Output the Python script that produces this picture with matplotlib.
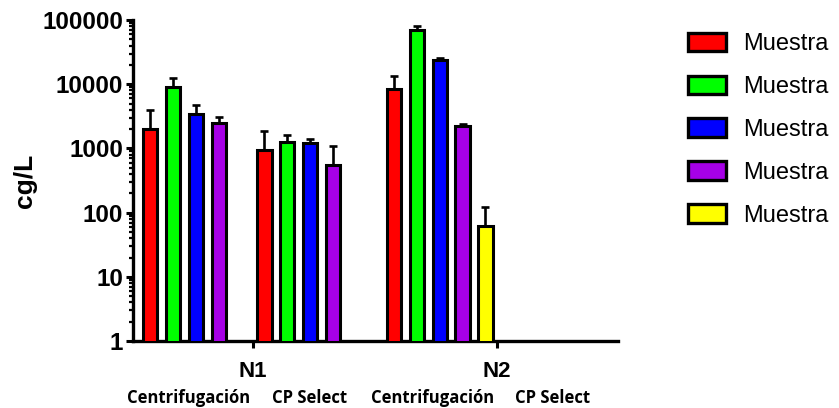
import numpy as np
import matplotlib
matplotlib.use("Agg")
import matplotlib.pyplot as plt
from matplotlib.patches import Patch
from matplotlib.transforms import blended_transform_factory

plt.rcParams['font.family'] = ['Liberation Sans', 'DejaVu Sans']

# datos
grupos = ["N1", "N2"]
metodos = ["Centrifugación", "CP Select"]
muestras = ["Muestra", "Muestra", "Muestra", "Muestra", "Muestra"]
colores = ["#FF0000", "#00FF00", "#0000FF", "#A600E6", "#FFFF00"]

# valores (cg/L); nan = sin barra
n1_centrif = [2000, 9000, 3400, 2500, np.nan]
n1_centrif_err = [1900, 3300, 1400, 550, 0]
n1_cpselect = [950, 1270, 1200, 560, np.nan]
n1_cpselect_err = [950, 360, 220, 540, 0]
n2_centrif = [8300, 70000, 23800, 2260, 62]
n2_centrif_err = [5300, 11000, 1500, 150, 61]
n2_cpselect = [np.nan, np.nan, np.nan, np.nan, np.nan]
n2_cpselect_err = [0, 0, 0, 0, 0]

valores = [[n1_centrif, n1_cpselect], [n2_centrif, n2_cpselect]]
errores = [[n1_centrif_err, n1_cpselect_err], [n2_centrif_err, n2_cpselect_err]]

fig = plt.figure(figsize=(8.39, 4.08), dpi=100)
ax = fig.add_axes([0.1585, 0.164, 0.578, 0.787])

paso = 0.094     # separacion entre barras
ancho = 0.058    # ancho de barra

for g in range(len(grupos)):
    for m in range(len(metodos)):
        for s in range(len(muestras)):
            v = valores[g][m][s]
            if np.isnan(v):
                continue
            x = g + (m * 5 + s - 4.5) * paso
            e = errores[g][m][s]
            ax.errorbar(x, v, yerr=[[0], [e]], fmt="none", ecolor="black",
                        elinewidth=1.9, capsize=3, capthick=1.9, zorder=2)
            ax.bar(x, v, width=ancho, color=colores[s], edgecolor="black",
                   linewidth=2.2, zorder=3)

ax.set_yscale("log")
ax.set_ylim(1, 100000)
ax.set_xlim(-0.492, 1.496)
ax.set_yticks([1, 10, 100, 1000, 10000, 100000])
ax.set_yticklabels(["1", "10", "100", "1000", "10000", "100000"],
                   fontsize=17.5, fontweight="bold")
ax.set_xticks([0, 1])
ax.set_xticklabels(grupos, fontsize=16, fontweight="bold")
ax.tick_params(axis="y", which="major", length=5, width=2.2, direction="out", pad=2)
ax.tick_params(axis="y", which="minor", length=3, width=1.6, direction="out")
ax.tick_params(axis="x", length=5, width=2.2, direction="out", pad=9)

for lado in ["top", "right"]:
    ax.spines[lado].set_visible(False)
for lado in ["left", "bottom"]:
    ax.spines[lado].set_linewidth(2.4)

ax.set_ylabel("cg/L", fontsize=19, fontweight="bold")
ax.yaxis.set_label_coords(-0.198, 0.5)

# etiquetas de metodo debajo de cada grupo
trans = blended_transform_factory(ax.transData, fig.transFigure)
desplaz = [-0.265, 0.23]
for g in range(len(grupos)):
    for m in range(len(metodos)):
        fig.text(g + desplaz[m], 0.024, metodos[m], transform=trans,
                 ha="center", va="center", fontsize=12, fontweight="bold",
                 family=["Open Sans", "DejaVu Sans"])

# leyenda
handles = [Patch(facecolor=c, edgecolor="black", linewidth=2.4) for c in colores]
fig.legend(handles, muestras, loc="upper left", bbox_to_anchor=(0.82, 0.92),
           frameon=False, fontsize=17, handlelength=1.6, handleheight=0.85,
           handletextpad=0.75, labelspacing=0.86, borderaxespad=0, borderpad=0)

plt.savefig("out.png", dpi=100)
